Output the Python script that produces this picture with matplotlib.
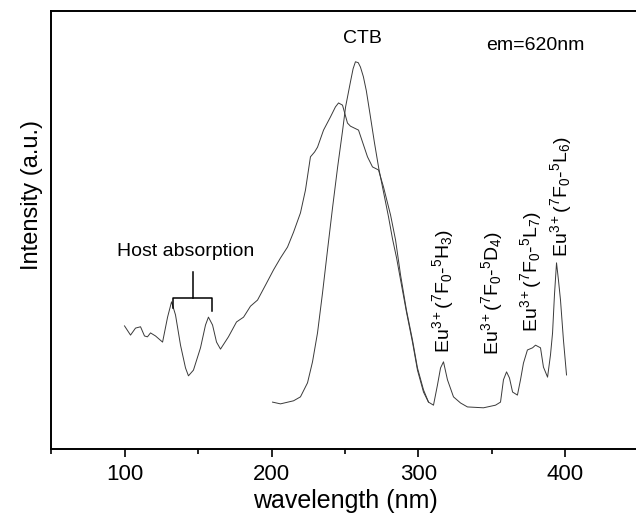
import matplotlib
matplotlib.use('Agg')
import matplotlib.pyplot as plt

plt.rcParams['font.family'] = ['Liberation Sans', 'DejaVu Sans']
plt.rcParams['mathtext.fontset'] = 'custom'
plt.rcParams['mathtext.rm'] = 'Liberation Sans'
plt.rcParams['mathtext.it'] = 'Liberation Sans:italic'
plt.rcParams['mathtext.bf'] = 'Liberation Sans:bold'
plt.rcParams['mathtext.default'] = 'rm'

# excitation spectrum, host + CTB band (100-307 nm)
wl_a = [100.0, 104.1, 107.5, 110.9, 113.6, 115.6, 117.7, 121.1, 125.9, 129.3,
        132.0, 134.7, 138.1, 141.5, 143.5, 146.9, 151.7, 155.1, 157.1, 159.9,
        162.6, 165.3, 170.7, 176.2, 181.0, 185.7, 190.5, 195.9, 201.4, 206.1,
        210.9, 215.0, 219.7, 223.1, 226.5, 229.3, 231.3, 235.4, 240.1, 243.5,
        245.6, 248.3, 251.7, 253.7, 259.2, 262.6, 265.3, 268.7, 272.8, 276.2,
        281.0, 284.4, 287.8, 291.8, 295.9, 299.3, 303.4, 306.8]
int_a = [0.281, 0.260, 0.276, 0.279, 0.258, 0.256, 0.265, 0.258, 0.244, 0.301,
         0.336, 0.306, 0.237, 0.185, 0.167, 0.180, 0.231, 0.283, 0.301, 0.283,
         0.244, 0.228, 0.256, 0.290, 0.301, 0.326, 0.340, 0.374, 0.409, 0.436,
         0.461, 0.495, 0.539, 0.591, 0.667, 0.678, 0.689, 0.728, 0.758, 0.781,
         0.790, 0.785, 0.744, 0.737, 0.728, 0.694, 0.667, 0.644, 0.637, 0.598,
         0.534, 0.477, 0.397, 0.317, 0.249, 0.185, 0.135, 0.107]

# excitation spectrum, CTB + Eu3+ f-f lines (200-400 nm)
wl_b = [200.7, 206.1, 215.0, 219.7, 224.5, 227.9, 231.3, 234.7, 238.1, 241.5,
        245.0, 248.4, 250.4, 253.7, 255.5, 257.1, 259.0, 260.5, 262.5, 264.5,
        267.0, 270.0, 273.0, 276.0, 279.6, 282.3, 285.1, 287.8, 291.8, 295.9,
        299.3, 303.4, 306.8, 310.2, 312.9, 315.0, 317.0, 319.7, 323.8, 328.6,
        333.3, 344.2, 352.4, 355.8, 357.8, 359.9, 361.9, 364.0, 367.3, 369.4,
        371.4, 374.1, 377.6, 379.6, 383.0, 385.0, 387.8, 389.8, 391.2, 392.5,
        393.9, 395.2, 396.6, 398.6, 400.7]
int_b = [0.107, 0.103, 0.110, 0.119, 0.151, 0.199, 0.265, 0.356, 0.454, 0.550,
         0.644, 0.728, 0.781, 0.838, 0.868, 0.884, 0.882, 0.872, 0.850, 0.818,
         0.765, 0.700, 0.640, 0.590, 0.530, 0.480, 0.436, 0.386, 0.313, 0.244,
         0.180, 0.130, 0.107, 0.100, 0.146, 0.185, 0.199, 0.158, 0.119, 0.105,
         0.096, 0.094, 0.100, 0.107, 0.158, 0.176, 0.162, 0.130, 0.123, 0.158,
         0.196, 0.226, 0.231, 0.237, 0.231, 0.187, 0.164, 0.215, 0.265, 0.352,
         0.425, 0.386, 0.340, 0.249, 0.169]

xticks = [100, 200, 300, 400]

# Eu3+ transition labels: (wavelength, intensity, text)
eu_labels = [
    (317.0, 0.219, r'Eu$^{3+}$($^7$F$_0$-$^5$H$_3$)'),
    (350.3, 0.215, r'Eu$^{3+}$($^7$F$_0$-$^5$D$_4$)'),
    (376.9, 0.267, r'Eu$^{3+}$($^7$F$_0$-$^5$L$_7$)'),
    (397.3, 0.438, r'Eu$^{3+}$($^7$F$_0$-$^5$L$_6$)'),
]

fig = plt.figure(figsize=(6.36, 5.15), dpi=100)
ax = fig.add_axes([0.0802, 0.1282, 0.9245, 0.8505])

ax.plot(wl_a, int_a, color='#3a3a3a', lw=0.7)
ax.plot(wl_b, int_b, color='#3a3a3a', lw=0.7)

ax.set_xlim(50, 450)
ax.set_ylim(0, 1)
ax.set_xticks(xticks)
ax.set_xticks([50, 150, 250, 350], minor=True)
ax.set_yticks([])
ax.tick_params(axis='x', which='major', direction='out', length=6, width=1.2,
               labelsize=16, pad=5)
ax.tick_params(axis='x', which='minor', direction='out', length=3.5, width=1.2)
for sp in ax.spines.values():
    sp.set_linewidth(1.4)

ax.set_xlabel('wavelength (nm)', fontsize=18, labelpad=3)
ax.set_ylabel('Intensity (a.u.)', fontsize=17, va='center')
ax.yaxis.set_label_coords(-0.032, 0.58)

# host absorption bracket
ax.plot([132.7, 132.7, 159.2, 159.2], [0.322, 0.345, 0.345, 0.315], color='black', lw=1.1)
ax.plot([146.7, 146.7], [0.345, 0.404], color='black', lw=1.1)
ax.text(141.8, 0.450, 'Host absorption', fontsize=14, ha='center', va='center')

ax.text(261.9, 0.938, 'CTB', fontsize=14, ha='center', va='center')
ax.text(379.6, 0.922, 'em=620nm', fontsize=14, ha='center', va='center')

for x, y, s in eu_labels:
    ax.text(x, y, s, fontsize=14, rotation=90, ha='center', va='bottom')

fig.savefig('out.png', dpi=100)
